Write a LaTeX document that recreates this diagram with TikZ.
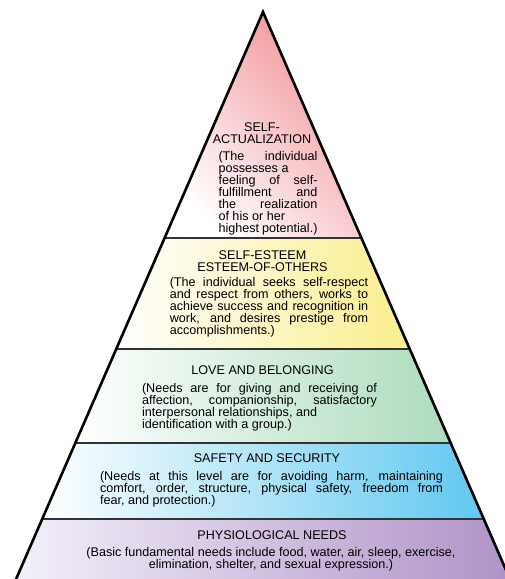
\documentclass[tikz,border=0pt]{standalone}
\usepackage{fontspec}
\setmainfont{Liberation Sans}
\usetikzlibrary{positioning}

\definecolor{selfred}{RGB}{242,146,152}
\definecolor{esteemyellow}{RGB}{250,238,140}
\definecolor{lovegreen}{RGB}{172,219,188}
\definecolor{safeblue}{RGB}{96,200,240}
\definecolor{physpurple}{RGB}{176,146,200}
\definecolor{physlight}{RGB}{243,240,250}

\begin{document}
\begin{tikzpicture}[x=1pt,y=-1pt,
    edge line/.style={line width=2.6pt,black},
    band line/.style={line width=1.8pt,black!80},
    level title/.style={inner sep=0pt,anchor=north,align=center,font=\fontsize{12.6}{12}\selectfont},
    level text/.style={inner sep=0pt,align=justify,font=\fontsize{12.6}{12}\selectfont}]
    \useasboundingbox (0,0) rectangle (505,579);
    \clip (0,0) rectangle (505,579);

    % apex and the ends of every dividing line
    \coordinate (top) at (263,12);
    \coordinate (l1) at (164.6,238); \coordinate (r1) at (361.4,238);
    \coordinate (l2) at (116.2,349); \coordinate (r2) at (409.8,349);
    \coordinate (l3) at (75.3,443);  \coordinate (r3) at (450.7,443);
    \coordinate (l4) at (42.2,519);  \coordinate (r4) at (483.8,519);
    \coordinate (l5) at (16.1,579);  \coordinate (r5) at (509.9,579);

    \shade[top color=selfred,bottom color=white,shading angle=-45] (top) -- (r1) -- (l1) -- cycle;
    \shade[left color=white,right color=esteemyellow] (l1) -- (r1) -- (r2) -- (l2) -- cycle;
    \shade[left color=white,right color=lovegreen] (l2) -- (r2) -- (r3) -- (l3) -- cycle;
    \shade[left color=white,right color=safeblue] (l3) -- (r3) -- (r4) -- (l4) -- cycle;
    \shade[left color=physlight,right color=physpurple] (l4) -- (r4) -- (r5) -- (l5) -- cycle;

    \draw[band line] (l1) -- (r1);
    \draw[band line] (l2) -- (r2);
    \draw[band line] (l3) -- (r3);
    \draw[band line] (l4) -- (r4);
    \draw[edge line] (l5) -- (top) -- (r5);

    \node[level title] (self) at (262,122.5) {SELF-\\ACTUALIZATION};
    \node[level text,text width=99pt] (selftext) [below=7pt of self,xshift=6pt]
        {(The individual\linebreak possesses a\newline feeling of self-\linebreak fulfillment and\linebreak the realization\linebreak of his or her\newline highest potential.)};

    \node[level title] (esteem) at (262.5,250.5) {SELF-ESTEEM\\ESTEEM-OF-OTHERS};
    \node[level text,text width=198.5pt] (esteemtext) [below=5pt of esteem,xshift=6.5pt]
        {(The individual seeks self-respect\linebreak and respect from others, works to\linebreak achieve success and recognition in\linebreak work, and desires prestige from\linebreak accomplishments.)};

    \node[level title] (love) at (262.5,365.5) {LOVE AND BELONGING};
    \node[level text,text width=235pt] (lovetext) [below=8.5pt of love,xshift=-3pt]
        {(Needs are for giving and receiving of\linebreak affection, companionship, satisfactory\linebreak interpersonal relationships, and\newline identification with a group.)};

    \node[level title] (safety) at (267,453) {SAFETY AND SECURITY};
    \node[level text,text width=343pt] (safetytext) [below=9pt of safety,xshift=4.5pt]
        {(Needs at this level are for avoiding harm, maintaining\linebreak comfort, order, structure, physical safety, freedom from\linebreak fear, and protection.)};

    \node[level title] (phys) at (272,530.5) {PHYSIOLOGICAL NEEDS};
    \node[level text,align=center] (phystext) [below=7.5pt of phys,xshift=-1pt]
        {(Basic fundamental needs include food, water, air, sleep, exercise,\\elimination, shelter, and sexual expression.)};
\end{tikzpicture}
\end{document}
